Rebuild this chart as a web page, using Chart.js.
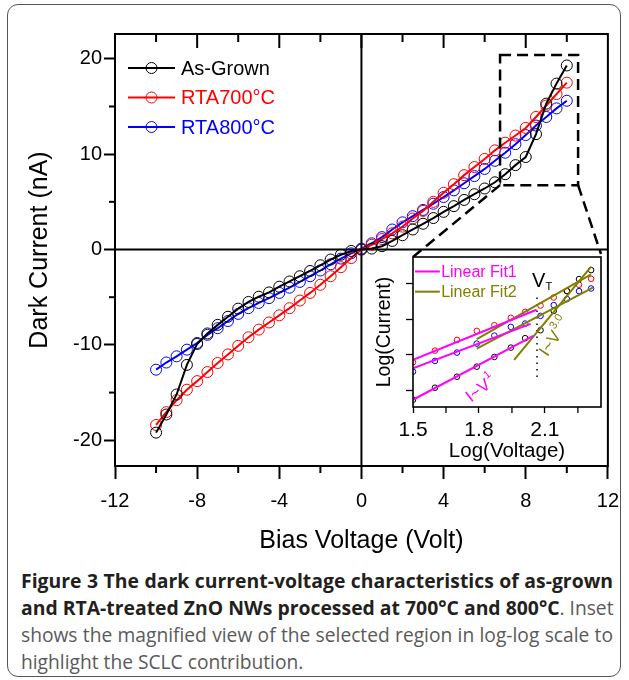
<!DOCTYPE html>
<html><head><meta charset="utf-8">
<script src="https://cdn.jsdelivr.net/npm/chart.js@4.4.0/dist/chart.umd.min.js"></script>
<style>
html,body{margin:0;padding:0;background:#fff;width:629px;height:680px;overflow:hidden}
#frame{position:absolute;left:7px;top:4px;width:614px;height:673px;border:1.5px solid #555;border-radius:11px;box-sizing:border-box}
#main{position:absolute;left:0;top:0}
#inset{position:absolute;left:360px;top:245px}
#cap{position:absolute;left:21px;top:567px;font-family:"Open Sans";font-size:17px;line-height:27px;color:#5a5a5a}
#cap div{width:592px;height:27px;white-space:nowrap;text-align:left;text-align-last:left}
#cap.just div{text-align:justify;text-align-last:justify}
#cap.just div.last{text-align:left;text-align-last:left}
#cap b{color:#231f20}
</style></head><body>
<div id="frame"></div>
<canvas id="main" width="629" height="560"></canvas>
<canvas id="inset" width="246" height="225"></canvas>
<div id="cap">
<div id="l1"><b>Figure 3 The dark current-voltage characteristics of as-grown</b></div>
<div id="l2"><b>and RTA-treated ZnO NWs processed at 700°C and 800°C</b><span>. Inset</span></div>
<div id="l3"><span>shows the magnified view of the selected region in log-log scale to</span></div>
<div id="l4" class="last"><span>highlight the SCLC contribution.</span></div>
</div>
<script>
// ---------- main chart data ----------
const VOLTAGE = [-10,-9.5,-9,-8.5,-8,-7.5,-7,-6.5,-6,-5.5,-5,-4.5,-4,-3.5,-3,-2.5,-2,-1.5,-1,-0.5,0,
                 0.5,1,1.5,2,2.5,3,3.5,4,4.5,5,5.5,6,6.5,7,7.5,8,8.5,9,9.5,10];
const AS_GROWN = [-19.2,-17.3,-15.2,-12.1,-9.9,-8.8,-7.9,-7.05,-6.2,-5.5,-4.95,-4.5,-3.9,-3.35,-2.8,-2.25,-1.65,-1.05,-0.55,-0.15,0.0,
                  0.1,0.35,0.9,1.5,2.1,2.7,3.3,3.95,4.55,5.2,5.8,6.4,7.05,7.9,8.85,9.7,12.1,15.3,17.4,19.3];
const RTA700 = [-18.4,-17.05,-15.8,-14.7,-13.8,-12.85,-11.9,-11.0,-10.1,-9.2,-8.4,-7.65,-6.9,-6.15,-5.35,-4.55,-3.7,-2.8,-1.85,-0.9,0.0,
                0.5,1.1,1.7,2.4,3.25,4.05,5.0,5.95,6.85,7.8,8.65,9.5,10.4,11.2,11.95,12.75,13.9,15.1,16.3,17.5];
const RTA800 = [-12.6,-11.85,-11.2,-10.5,-9.8,-8.95,-8.25,-7.5,-6.75,-6.15,-5.6,-5.1,-4.55,-4.0,-3.4,-2.8,-2.2,-1.55,-0.95,-0.4,0.1,
                0.65,1.3,2.1,2.85,3.5,4.15,4.8,5.5,6.2,6.95,7.7,8.45,9.3,10.15,11.05,12.0,13.0,13.9,14.8,15.6];
const SERIES_NAMES = ['As-Grown','RTA700°C','RTA800°C'];
const X_TICKS = [-12,-8,-4,0,4,8,12];
const X_MINOR = [-10,-6,-2,2,6,10];
const Y_TICKS = [-20,-10,0,10,20];
const Y_MINOR = [-15,-5,5,15];
const ZOOM_BOX = [6.75, 10.55, 6.75, 20.4]; // x0, x1, y0, y1 in data units

// ---------- inset data ----------
const INSET_LOGV = [1.50,1.60,1.70,1.79,1.87,1.945,2.01,2.08,2.14,2.20,2.255,2.31];
const INSET_AS   = [0.725,1.065,1.377,1.66,1.935,2.198,2.465,2.69,3.238,3.80,4.136,4.39];
const INSET_700  = [1.785,2.113,2.416,2.671,2.833,3.04,3.21,3.388,3.615,3.796,3.975,4.144];
const INSET_800  = [1.518,1.822,2.057,2.312,2.538,2.785,2.878,3.096,3.40,3.57,3.796,3.87];
const FIT1_AS  = [[1.50,0.725],[2.047,2.53]];
const FIT1_700 = [[1.50,1.85],[2.062,3.27]];
const FIT1_800 = [[1.50,1.615],[2.035,2.87]];
const FIT2_AS  = [[1.96,1.85],[2.31,4.49]];
const FIT2_700 = [[1.79,2.436],[2.31,4.27]];
const FIT2_800 = [[1.79,2.17],[2.32,3.9]];
const VT_LINE  = [[2.064,1.37],[2.064,3.75]];
const INSET_X_TICKS = [1.5,1.8,2.1];
const INSET_X_MINOR = [1.65,1.95,2.25];
const INSET_Y_TICKS = [1,2,3,4];

const FONT = '"Liberation Sans", Arial, sans-serif';
const COLORS = ['#000000','#ff0000','#0000ff'];
const MAGENTA = '#ff00ff', OLIVE = '#808000';

const pts = (xs, ys) => xs.map((x,i)=>({x, y: ys[i]}));
const pairs = arr => arr.map(p=>({x:p[0], y:p[1]}));

// ---------- inset chart ----------
const insetDecor = {
  id:'insetDecor',
  beforeDatasetsDraw(chart){
    const {ctx, chartArea:a} = chart;
    ctx.save(); ctx.fillStyle='#fff'; ctx.fillRect(a.left,a.top,a.right-a.left,a.bottom-a.top); ctx.restore();
  },
  afterDraw(chart){
    const {ctx, chartArea:a, scales:{x,y}} = chart;
    ctx.save();
    ctx.strokeStyle='#000'; ctx.lineWidth=1.6;
    ctx.strokeRect(a.left, a.top, a.right-a.left, a.bottom-a.top);
    ctx.lineWidth=1.3;
    INSET_X_MINOR.forEach(v=>{const px=x.getPixelForValue(v); ctx.beginPath(); ctx.moveTo(px,a.bottom); ctx.lineTo(px,a.bottom+6); ctx.stroke();});
    // legend
    ctx.font = '16px '+FONT; ctx.textBaseline='middle'; ctx.textAlign='left';
    [[MAGENTA,'Linear Fit1',4.35],[OLIVE,'Linear Fit2',3.78]].forEach(([c,t,v])=>{
      const py=y.getPixelForValue(v);
      ctx.strokeStyle=c; ctx.lineWidth=2;
      ctx.beginPath(); ctx.moveTo(x.getPixelForValue(1.509),py); ctx.lineTo(x.getPixelForValue(1.622),py); ctx.stroke();
      ctx.fillStyle=c; ctx.fillText(t, x.getPixelForValue(1.628), py+1);
    });
    // V_T
    ctx.fillStyle='#000'; ctx.font='20px '+FONT; ctx.textAlign='center'; ctx.textBaseline='alphabetic';
    const vx=x.getPixelForValue(2.072), vy=y.getPixelForValue(4.12)+7;
    ctx.fillText('V', vx, vy);
    ctx.font='11px '+FONT; ctx.fillText('T', vx+10, vy+3);
    // rotated power-law labels
    const powLabel=(base,sup,xv,yv,ang,color)=>{
      ctx.save(); ctx.translate(x.getPixelForValue(xv), y.getPixelForValue(yv)); ctx.rotate(ang);
      ctx.fillStyle=color; ctx.textAlign='left'; ctx.textBaseline='alphabetic';
      ctx.font='17px '+FONT; const w1=ctx.measureText(base).width;
      ctx.font='11px '+FONT; const w2=ctx.measureText(sup).width;
      const x0=-(w1+w2)/2;
      ctx.font='17px '+FONT; ctx.fillText(base, x0, 6);
      ctx.font='11px '+FONT; ctx.fillText(sup, x0+w1+1, -3);
      ctx.restore();
    };
    powLabel('I~V','1',1.805,1.05,-38*Math.PI/180,MAGENTA);
    powLabel('I~V','3.0',2.14,2.51,-57*Math.PI/180,OLIVE);
    ctx.restore();
  }
};
const insetChart = new Chart(document.getElementById('inset'), {
  type:'scatter',
  data:{datasets:[
    {data:pairs(FIT1_AS), showLine:true, borderColor:MAGENTA, borderWidth:2, pointRadius:0},
    {data:pairs(FIT1_700), showLine:true, borderColor:MAGENTA, borderWidth:2, pointRadius:0},
    {data:pairs(FIT1_800), showLine:true, borderColor:MAGENTA, borderWidth:2, pointRadius:0},
    {data:pairs(FIT2_AS), showLine:true, borderColor:OLIVE, borderWidth:2, pointRadius:0},
    {data:pairs(FIT2_700), showLine:true, borderColor:OLIVE, borderWidth:2, pointRadius:0},
    {data:pairs(FIT2_800), showLine:true, borderColor:OLIVE, borderWidth:2, pointRadius:0},
    {data:pairs(VT_LINE), showLine:true, borderColor:'#000', borderWidth:1.5, borderDash:[1.5,5], pointRadius:0},
    {data:pts(INSET_LOGV, INSET_AS), pointRadius:2.8, pointBorderWidth:1, pointBorderColor:COLORS[0], pointBackgroundColor:'rgba(0,0,0,0)'},
    {data:pts(INSET_LOGV, INSET_700), pointRadius:2.8, pointBorderWidth:1, pointBorderColor:COLORS[1], pointBackgroundColor:'rgba(0,0,0,0)'},
    {data:pts(INSET_LOGV, INSET_800), pointRadius:2.8, pointBorderWidth:1, pointBorderColor:COLORS[2], pointBackgroundColor:'rgba(0,0,0,0)'}
  ]},
  options:{
    responsive:false, animation:false, events:[],
    layout:{padding:{top:12,right:5,left:0,bottom:0}},
    plugins:{legend:{display:false}, tooltip:{enabled:false}},
    scales:{
      x:{type:'linear', min:1.5, max:2.355,
        afterBuildTicks:s=>{s.ticks=INSET_X_TICKS.map(v=>({value:v}));},
        afterFit:s=>{s.height=63;},
        grid:{drawOnChartArea:false, tickLength:6, tickWidth:1.3, color:'#000'}, border:{display:false},
        ticks:{padding:5, color:'#000', font:{family:FONT,size:21}, maxRotation:0, autoSkip:false, callback:v=>v.toFixed(1)},
        title:{display:true, text:'Log(Voltage)', color:'#000', font:{family:FONT,size:20.5}, padding:{top:0,bottom:6}}
      },
      y:{type:'linear', min:0.52, max:4.76,
        afterBuildTicks:s=>{s.ticks=INSET_Y_TICKS.map(v=>({value:v}));},
        afterFit:s=>{s.width=53;},
        grid:{drawOnChartArea:false, tickLength:7, tickWidth:1.3, color:'#000'}, border:{display:false},
        ticks:{padding:0, callback:()=>''},
        title:{display:true, text:'Log(Current)', color:'#000', font:{family:FONT,size:19.5}, padding:{top:13,bottom:0}}
      }
    }
  },
  plugins:[insetDecor]
});

// ---------- main chart ----------
const mainDecor = {
  id:'mainDecor',
  beforeDatasetsDraw(chart){
    const {ctx, chartArea:a, scales:{x,y}} = chart;
    ctx.save(); ctx.strokeStyle='#000'; ctx.lineWidth=2;
    const x0=x.getPixelForValue(0), y0=y.getPixelForValue(0);
    ctx.beginPath(); ctx.moveTo(x0,a.top); ctx.lineTo(x0,a.bottom); ctx.moveTo(a.left,y0); ctx.lineTo(a.right,y0); ctx.stroke();
    ctx.restore();
  },
  afterDraw(chart){
    const {ctx, chartArea:a, scales:{x,y}} = chart;
    ctx.save();
    ctx.strokeStyle='#000'; ctx.lineWidth=2;
    ctx.strokeRect(a.left, a.top, a.right-a.left, a.bottom-a.top);
    const seg=(x1,y1,x2,y2)=>{ctx.beginPath();ctx.moveTo(x1,y1);ctx.lineTo(x2,y2);ctx.stroke();};
    X_MINOR.forEach(v=>{const p=x.getPixelForValue(v); seg(p,a.bottom,p,a.bottom+7);});
    Y_MINOR.forEach(v=>{const p=y.getPixelForValue(v); seg(a.left,p,a.left-6,p);});
    X_TICKS.forEach(v=>{const p=x.getPixelForValue(v); if(p>a.left+1&&p<a.right-1) seg(p,a.top,p,a.top+14);});
    X_MINOR.forEach(v=>{const p=x.getPixelForValue(v); seg(p,a.top,p,a.top+8);});
    // zoom box
    ctx.setLineDash([11,6]); ctx.lineWidth=2.5;
    const bx0=x.getPixelForValue(ZOOM_BOX[0]), bx1=x.getPixelForValue(ZOOM_BOX[1]);
    const by0=y.getPixelForValue(ZOOM_BOX[2]), by1=y.getPixelForValue(ZOOM_BOX[3]);
    ctx.strokeRect(bx0, by1, bx1-bx0, by0-by1);
    const ic=document.getElementById('inset'), ia=insetChart.chartArea;
    const ox=ic.offsetLeft, oy=ic.offsetTop;
    seg(bx0,by0, ox+ia.left, oy+ia.top);
    seg(bx1,by0, ox+ia.right, oy+ia.top-3);
    ctx.setLineDash([]);
    // legend
    ctx.font='20px '+FONT; ctx.textBaseline='middle'; ctx.textAlign='left';
    SERIES_NAMES.forEach((name,i)=>{
      const py=68+i*29.5;
      ctx.strokeStyle=COLORS[i]; ctx.lineWidth=2;
      seg(128,py,175,py);
      ctx.lineWidth=1; ctx.beginPath(); ctx.arc(151.5,py,5.5,0,Math.PI*2); ctx.stroke();
      ctx.fillStyle=COLORS[i]; ctx.fillText(name,181,py+1);
    });
    ctx.restore();
  }
};
const mkSeries=(ys,i)=>({label:SERIES_NAMES[i], data:pts(VOLTAGE,ys), showLine:true, borderColor:COLORS[i], borderWidth:2,
  pointRadius:5.5, pointBorderWidth:1, pointBorderColor:COLORS[i], pointBackgroundColor:'rgba(0,0,0,0)', tension:0});
new Chart(document.getElementById('main'), {
  type:'scatter',
  data:{datasets:[mkSeries(AS_GROWN,0), mkSeries(RTA700,1), mkSeries(RTA800,2)]},
  options:{
    responsive:false, animation:false, events:[],
    layout:{padding:{top:34,right:21,left:0,bottom:0}},
    plugins:{legend:{display:false}, tooltip:{enabled:false}},
    scales:{
      x:{type:'linear', min:-12, max:12,
        afterBuildTicks:s=>{s.ticks=X_TICKS.map(v=>({value:v}));},
        afterFit:s=>{s.height=94;},
        grid:{drawOnChartArea:false, tickLength:13, tickWidth:2, color:'#000'}, border:{display:false},
        ticks:{padding:10, color:'#000', font:{family:FONT,size:20}, maxRotation:0, autoSkip:false, callback:v=>String(v)},
        title:{display:true, text:'Bias Voltage (Volt)', color:'#000', font:{family:FONT,size:25}, padding:{top:0,bottom:4}}
      },
      y:{type:'linear', min:-22.7, max:22.6,
        afterBuildTicks:s=>{s.ticks=Y_TICKS.map(v=>({value:v}));},
        afterFit:s=>{s.width=115;},
        grid:{drawOnChartArea:false, tickLength:11, tickWidth:2, color:'#000'}, border:{display:false},
        ticks:{padding:2, color:'#000', font:{family:FONT,size:20}, callback:v=>String(v)},
        title:{display:true, text:'Dark Current (nA)', color:'#000', font:{family:FONT,size:25}, padding:{top:25,bottom:0}}
      }
    }
  },
  plugins:[mainDecor]
});

// caption font fit (measured unjustified): bold and regular sized so full lines fill the width
(function(){
  const W=589;
  const cap=document.getElementById('cap');
  const width=el=>el.getBoundingClientRect().width;
  const bs=[...cap.querySelectorAll('b')];
  const rs=[...cap.querySelectorAll('span')];
  bs.forEach(e=>e.style.fontSize='17px'); rs.forEach(e=>e.style.fontSize='17px');
  const wb=width(document.querySelector('#l1 b'));
  const wr=width(document.querySelector('#l3 span'));
  const bfs=Math.min(20,17*W/wb), rfs=Math.min(20,17*W/wr);
  bs.forEach(e=>e.style.fontSize=bfs.toFixed(2)+'px');
  rs.forEach(e=>e.style.fontSize=rfs.toFixed(2)+'px');
  cap.classList.add('just');
})();
</script>
</body></html>
